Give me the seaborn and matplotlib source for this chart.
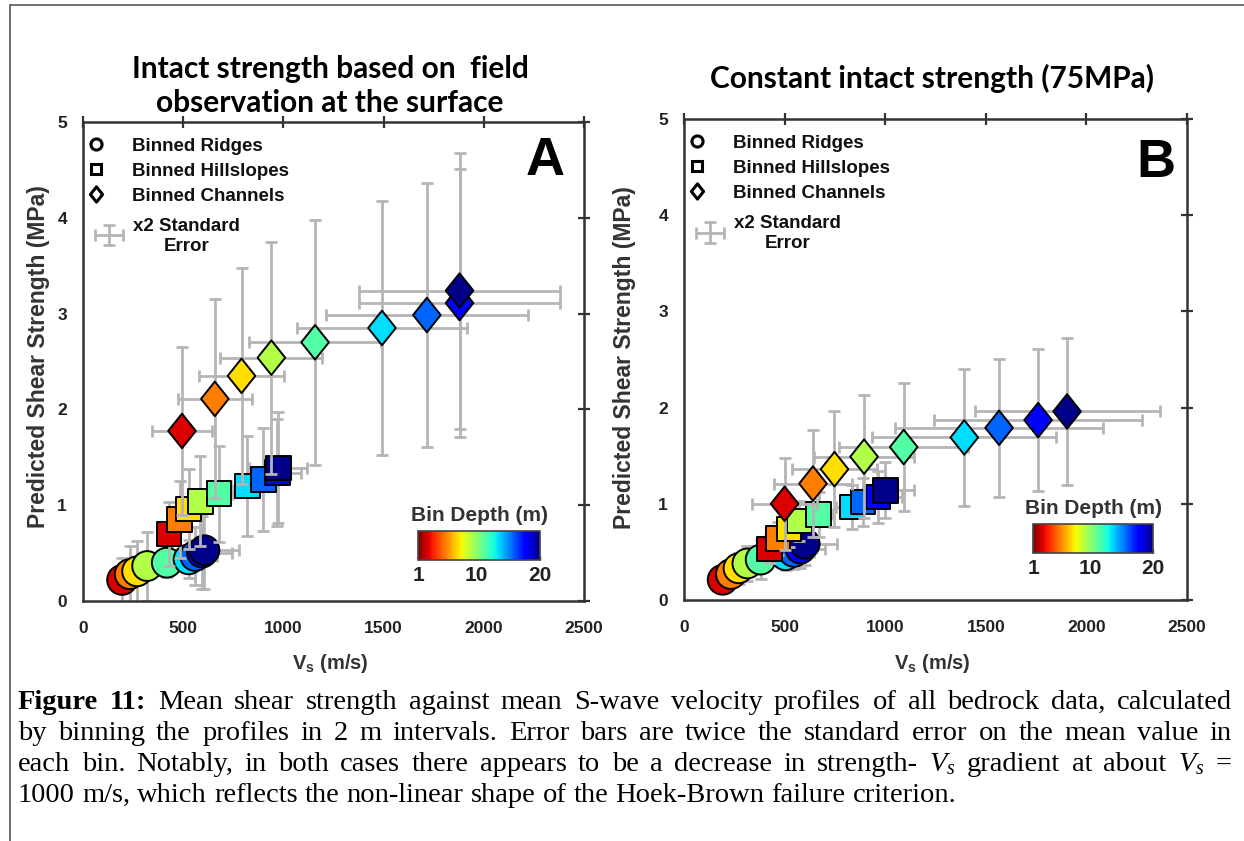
import numpy as np
import pandas as pd
import seaborn as sns
import matplotlib
matplotlib.use("Agg")
import matplotlib.pyplot as plt
from matplotlib.path import Path
from matplotlib.lines import Line2D
from matplotlib.colors import Normalize
from matplotlib.cm import ScalarMappable
from matplotlib.transforms import IdentityTransform
from matplotlib.legend_handler import HandlerErrorbar

# ---------------- data ----------------
DEPTH = [2.5, 5.3, 7.2, 9.3, 11.4, 13.5, 15.7, 17.9, 19.8]   # bin depth (m)

# Panel A: intact strength based on field observation
A_RIDGE_VS = [195, 233, 270, 320, 418, 527, 560, 594, 606]
A_RIDGE_TAU = [0.22, 0.28, 0.31, 0.365, 0.40, 0.435, 0.47, 0.505, 0.53]
A_RIDGE_XERR = [40, 45, 50, 60, 80, 90, 110, 150, 170]
A_RIDGE_YERR = [0.23, 0.29, 0.32, 0.36, 0.15, 0.20, 0.30, 0.38, 0.40]

A_HILL_VS = [430, 482, 527, 586, 678, 820, 900, 970, 975]
A_HILL_TAU = [0.70, 0.85, 0.96, 1.04, 1.12, 1.20, 1.27, 1.34, 1.39]
A_HILL_XERR = [40, 45, 55, 60, 70, 80, 100, 120, 145]
A_HILL_YERR = [0.33, 0.40, 0.42, 0.47, 0.50, 0.52, 0.54, 0.56, 0.58]

A_CHAN_VS = [494, 658, 791, 940, 1158, 1492, 1716, 1879, 1879]
A_CHAN_TAU = [1.775, 2.11, 2.35, 2.54, 2.70, 2.85, 2.985, 3.11, 3.24]
A_CHAN_XERR = [150, 186, 213, 255, 330, 426, 505, 500, 500]
A_CHAN_YERR = [0.88, 1.04, 1.13, 1.21, 1.28, 1.33, 1.38, 1.40, 1.44]

# Panel B: constant intact strength (75 MPa)
B_RIDGE_VS = [192, 233, 271, 315, 381, 505, 546, 579, 600]
B_RIDGE_TAU = [0.21, 0.27, 0.33, 0.38, 0.42, 0.465, 0.50, 0.535, 0.585]
B_RIDGE_XERR = [30, 35, 40, 45, 60, 80, 100, 120, 160]
B_RIDGE_YERR = [0.12, 0.14, 0.16, 0.18, 0.20, 0.15, 0.18, 0.20, 0.22]

B_HILL_VS = [426, 468, 521, 574, 669, 834, 891, 965, 1001]
B_HILL_TAU = [0.53, 0.64, 0.74, 0.82, 0.89, 0.965, 1.02, 1.07, 1.14]
B_HILL_XERR = [40, 45, 55, 60, 70, 80, 100, 120, 140]
B_HILL_YERR = [0.15, 0.17, 0.19, 0.21, 0.23, 0.23, 0.25, 0.27, 0.29]

B_CHAN_VS = [500, 641, 748, 895, 1092, 1393, 1566, 1760, 1904]
B_CHAN_TAU = [1.00, 1.21, 1.36, 1.49, 1.59, 1.69, 1.79, 1.87, 1.96]
B_CHAN_XERR = [160, 194, 211, 250, 320, 457, 518, 518, 460]
B_CHAN_YERR = [0.48, 0.56, 0.60, 0.64, 0.67, 0.71, 0.72, 0.74, 0.76]

X_TICKS = [0, 500, 1000, 1500, 2000, 2500]
Y_TICKS = [0, 1, 2, 3, 4, 5]
CBAR_TICKS = [1, 10, 20]
LEGEND_LABELS = ["Binned Ridges", "Binned Hillslopes", "Binned Channels"]
ERROR_LABEL = "x2 Standard\nError"
TITLE_A = ["Intact strength based on  field", "observation at the surface"]
TITLE_B = "Constant intact strength (75MPa)"
YLABEL = "Predicted Shear Strength (MPa)"
XLABEL = r"V$_\mathbf{s}$ (m/s)"

# ---------------- style ----------------
sns.set_style("white")
plt.rcParams["font.family"] = ["Liberation Sans", "DejaVu Sans"]
plt.rcParams["mathtext.fontset"] = "custom"
plt.rcParams["mathtext.bf"] = "Liberation Sans:bold"
plt.rcParams["mathtext.it"] = "Liberation Serif:italic"
plt.rcParams["mathtext.rm"] = "Liberation Serif"

W, H = 1244, 841
fig = plt.figure(figsize=(W / 100, H / 100), dpi=100)
fig.patch.set_facecolor("white")

ax_a = fig.add_axes([83 / W, 1 - 601 / H, 501 / W, 479 / H])
ax_b = fig.add_axes([684 / W, 1 - 600 / H, 503 / W, 481 / H])

DIAMOND = Path([(0, 1), (0.8, 0), (0, -1), (-0.8, 0), (0, 1)],
               [Path.MOVETO, Path.LINETO, Path.LINETO, Path.LINETO, Path.CLOSEPOLY])

cmap = "jet_r"
norm = Normalize(1, 20)
ERR_KW = dict(fmt="none", ecolor="#b5b5b5", elinewidth=2.0, capsize=4.2, capthick=2.0)


def draw_group(ax, vs, tau, xerr, yerr, marker, size, z):
    ax.errorbar(vs, tau, xerr=xerr, yerr=yerr, zorder=z, **ERR_KW)
    df = pd.DataFrame({"vs": vs, "tau": tau, "depth": DEPTH})
    sns.scatterplot(data=df, x="vs", y="tau", hue="depth", palette=cmap, hue_norm=(1, 20),
                    marker=marker, s=size, edgecolor="black", linewidth=1.4,
                    legend=False, ax=ax, zorder=z + 1)


groups = {
    ax_a: [(A_RIDGE_VS, A_RIDGE_TAU, A_RIDGE_XERR, A_RIDGE_YERR),
           (A_HILL_VS, A_HILL_TAU, A_HILL_XERR, A_HILL_YERR),
           (A_CHAN_VS, A_CHAN_TAU, A_CHAN_XERR, A_CHAN_YERR)],
    ax_b: [(B_RIDGE_VS, B_RIDGE_TAU, B_RIDGE_XERR, B_RIDGE_YERR),
           (B_HILL_VS, B_HILL_TAU, B_HILL_XERR, B_HILL_YERR),
           (B_CHAN_VS, B_CHAN_TAU, B_CHAN_XERR, B_CHAN_YERR)],
}
markers = [("o", 460), ("s", 310), (DIAMOND, 620)]
LEG_PROP = dict(weight="bold", size=13.5)

for ax, grp in groups.items():
    for i, ((vs, tau, xe, ye), (mk, sz)) in enumerate(zip(grp, markers)):
        draw_group(ax, vs, tau, xe, ye, mk, sz, 2 + 2 * i)

    ax.set_xlim(0, 2500)
    ax.set_ylim(0, 5)
    ax.set_xticks(X_TICKS)
    ax.set_yticks(Y_TICKS)
    ax.tick_params(direction="inout", length=9, width=1.6, color="#333333",
                   top=True, right=True, labelsize=12.5, labelcolor="#222222")
    ax.tick_params(axis="x", pad=10)
    ax.tick_params(axis="y", pad=7)
    for lab in ax.get_xticklabels() + ax.get_yticklabels():
        lab.set_fontweight("bold")
    for sp in ax.spines.values():
        sp.set_color("#333333")
        sp.set_linewidth(1.8)
    ax.set_xlabel(XLABEL, fontsize=14.5, fontweight="bold", color="#333333")
    ax.set_ylabel(YLABEL, fontsize=16.5, fontweight="bold", color="#333333")

    # legend: marker entries
    h1 = Line2D([], [], marker="o", ls="none", mfc="white", mec="black", mew=2.2, ms=8)
    h2 = Line2D([], [], marker="s", ls="none", mfc="white", mec="black", mew=2.2, ms=7)
    h3 = Line2D([], [], marker=DIAMOND, ls="none", mfc="white", mec="black", mew=2.2, ms=11)
    leg1 = ax.legend([h1, h2, h3], LEGEND_LABELS, loc="upper left",
                     bbox_to_anchor=(0.0, 0.975), frameon=False, prop=LEG_PROP,
                     handlelength=1.0, borderpad=0.2, handletextpad=1.4,
                     labelspacing=0.42, borderaxespad=0.0)
    for t in leg1.get_texts():
        t.set_color("#111111")
    ax.add_artist(leg1)

    # legend: error-bar entry
    eb = ax.errorbar([np.nan], [np.nan], xerr=[1], yerr=[1], **ERR_KW)
    leg2 = ax.legend([eb], [ERROR_LABEL], loc="upper left",
                     bbox_to_anchor=(0.0165, 0.808), frameon=False, prop=LEG_PROP,
                     handlelength=1.5, handleheight=1.1, borderpad=0.2,
                     handletextpad=0.55, borderaxespad=0.0,
                     handler_map={type(eb): HandlerErrorbar(xerr_size=0.75, yerr_size=0.55)})
    for t in leg2.get_texts():
        t.set_multialignment("center")
        t.set_color("#111111")
        t.set_linespacing(1.25)

ax_a.xaxis.set_label_coords(0.493, -0.106)
ax_b.xaxis.set_label_coords(0.493, -0.108)
ax_a.yaxis.set_label_coords(-0.066, 0.51)
ax_b.yaxis.set_label_coords(-0.095, 0.505)

# colorbars
for ax, rect in [(ax_a, [0.669, 0.0856, 0.2435, 0.0605]),
                 (ax_b, [0.694, 0.0977, 0.2386, 0.0603])]:
    cax = ax.inset_axes(rect)
    cb = fig.colorbar(ScalarMappable(norm=norm, cmap=cmap), cax=cax,
                      orientation="horizontal", ticks=CBAR_TICKS)
    cb.outline.set_edgecolor("#444444")
    cb.outline.set_linewidth(1.2)
    cax.tick_params(labelsize=15, length=3, width=1, direction="in", pad=4,
                    labelcolor="#222222", color="#444444")
    for lab in cax.get_xticklabels():
        lab.set_fontweight("bold")
    cax.set_title("Bin Depth (m)", fontsize=15, fontweight="bold", color="#333333", pad=7)

# panel letters
ax_a.text(0.922, 0.889, "A", transform=ax_a.transAxes, ha="center", va="baseline",
          fontsize=39, fontweight="heavy", color="black")
ax_b.text(0.938, 0.879, "B", transform=ax_b.transAxes, ha="center", va="baseline",
          fontsize=39, fontweight="heavy", color="black")

# titles
TFONT = dict(family=["Lato", "DejaVu Sans"], fontweight="bold", fontsize=21.5, color="black",
             ha="center", va="baseline")
fig.text(330 / W, 1 - 78 / H, TITLE_A[0], **TFONT)
fig.text(330 / W, 1 - 112 / H, TITLE_A[1], **TFONT)
fig.text(932 / W, 1 - 88 / H, TITLE_B, **TFONT)

# figure frame lines
fig.add_artist(Line2D([10 / W, 1], [1 - 5 / H, 1 - 5 / H], transform=fig.transFigure,
                      color="#555555", lw=1.2))
fig.add_artist(Line2D([10 / W, 10 / W], [0, 1 - 5 / H], transform=fig.transFigure,
                      color="#555555", lw=1.2))

# caption (justified lines)
CAPTION = [
    [("Figure", "b"), ("11:", "b"), ("Mean", "r"), ("shear", "r"), ("strength", "r"), ("against", "r"),
     ("mean", "r"), ("S-wave", "r"), ("velocity", "r"), ("profiles", "r"), ("of", "r"), ("all", "r"),
     ("bedrock", "r"), ("data,", "r"), ("calculated", "r")],
    [(w, "r") for w in "by binning the profiles in 2 m intervals. Error bars are twice the standard error on the mean value in".split()],
    [(w, "r") for w in "each bin. Notably, in both cases there appears to be a decrease in strength-".split()]
    + [(r"$V_s$", "r")] + [(w, "r") for w in "gradient at about".split()] + [(r"$V_s$", "r"), ("=", "r")],
    [(w, "r") for w in "1000 m/s, which reflects the non-linear shape of the Hoek-Brown failure criterion.".split()],
]
renderer = fig.canvas.get_renderer()
CAP_SIZE = 20.5
x0, x1 = 18, 1232
baselines = [709, 740, 771, 802]


def make(word, style, x, y):
    return fig.text(x, y, word, transform=IdentityTransform(), fontsize=CAP_SIZE,
                    family=["Liberation Serif", "DejaVu Serif"],
                    fontweight="bold" if style == "b" else "normal",
                    ha="left", va="baseline", color="black")


probe1 = make("x x", "r", 0, -100)
probe2 = make("xx", "r", 0, -100)
space_w = probe1.get_window_extent(renderer).width - probe2.get_window_extent(renderer).width
probe1.remove()
probe2.remove()

for li, (words, yb) in enumerate(zip(CAPTION, baselines)):
    y = H - yb
    texts = [make(w, s, 0, y) for w, s in words]
    widths = [t.get_window_extent(renderer).width for t in texts]
    if li < len(CAPTION) - 1:
        gap = max(space_w * 0.6, (x1 - x0 - sum(widths)) / (len(words) - 1))
    else:
        gap = space_w
    x = x0
    for t, w in zip(texts, widths):
        t.set_position((x, y))
        x += w + gap

fig.savefig("out.png", dpi=100, facecolor="white")
